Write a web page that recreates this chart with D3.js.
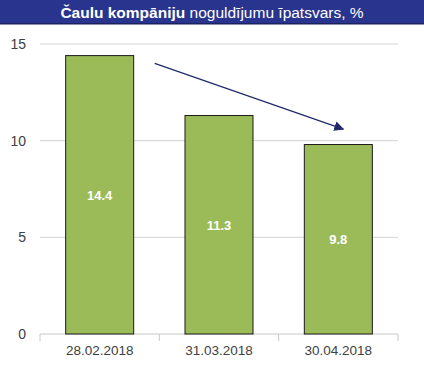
<!DOCTYPE html>
<html>
<head>
<meta charset="utf-8">
<script src="https://cdn.jsdelivr.net/npm/d3@7"></script>
<style>
  body { margin: 0; background: #fff; }
  svg { display: block; font-family: Arial, "Liberation Sans", sans-serif; }
</style>
</head>
<body>
<script>
// dati no attēla
const categories = ["28.02.2018", "31.03.2018", "30.04.2018"];
const values = [14.4, 11.3, 9.8];
const yTicks = [0, 5, 10, 15];

const W = 424, H = 368;
const margin = { left: 40, right: 26, top: 44, bottom: 34 };

const svg = d3.select("body").append("svg").attr("width", W).attr("height", H);

// virsraksta josla
svg.append("rect").attr("x", 0).attr("y", 0).attr("width", W).attr("height", 24).attr("fill", "#29348e");
svg.append("rect").attr("x", 0).attr("y", 23).attr("width", W).attr("height", 1.5).attr("fill", "#1a2260");
const title = svg.append("text").attr("x", W / 2).attr("y", 17.5).attr("text-anchor", "middle")
  .attr("fill", "#fff").attr("font-size", 15.5);
title.append("tspan").attr("font-weight", "bold").text("Čaulu kompāniju");
title.append("tspan").text(" noguldījumu īpatsvars, %");

const x = d3.scaleBand().domain(categories).range([margin.left, W - margin.right]).paddingInner(0.43).paddingOuter(0.215);
const y = d3.scaleLinear().domain([0, 15]).range([H - margin.bottom, margin.top]);

// režģis
svg.selectAll(".grid").data(yTicks.filter(d => d > 0)).enter().append("line")
  .attr("x1", margin.left).attr("x2", W - margin.right)
  .attr("y1", d => y(d)).attr("y2", d => y(d))
  .attr("stroke", "#d4d4d4").attr("stroke-width", 1);

// y ass teksti
svg.selectAll(".ylab").data(yTicks).enter().append("text")
  .attr("x", 26).attr("y", d => y(d) + 5).attr("text-anchor", "end")
  .attr("font-size", 14).attr("fill", "#404040").text(d => d);

// x ass
const step = x.step();
const xAxis = svg.append("g").attr("transform", `translate(0,${y(0)})`);
xAxis.append("line").attr("x1", margin.left).attr("x2", W - margin.right).attr("y1", 0).attr("y2", 0).attr("stroke", "#c8c8c8");
const bounds = d3.range(categories.length + 1).map(i => margin.left + i * (W - margin.left - margin.right) / categories.length);
xAxis.selectAll(".tick").data(bounds).enter().append("line")
  .attr("x1", d => d).attr("x2", d => d).attr("y1", 0).attr("y2", 7).attr("stroke", "#c8c8c8");
xAxis.selectAll(".xlab").data(categories).enter().append("text")
  .attr("x", d => x(d) + x.bandwidth() / 2).attr("y", 21).attr("text-anchor", "middle")
  .attr("font-size", 13.5).attr("fill", "#404040").text(d => d);

// stabiņi
svg.selectAll(".bar").data(values).enter().append("rect")
  .attr("x", (d, i) => x(categories[i])).attr("width", x.bandwidth())
  .attr("y", d => y(d)).attr("height", d => y(0) - y(d))
  .attr("fill", "#9bbb59").attr("stroke", "#1a1a1a").attr("stroke-width", 1);

svg.selectAll(".val").data(values).enter().append("text")
  .attr("x", (d, i) => x(categories[i]) + x.bandwidth() / 2)
  .attr("y", d => (y(d) + y(0)) / 2 + 5)
  .attr("text-anchor", "middle").attr("font-size", 13).attr("font-weight", "bold")
  .attr("fill", "#fff").text(d => d.toFixed(1));

// tendences bulta
svg.append("defs").append("marker").attr("id", "arr").attr("viewBox", "0 0 10 10")
  .attr("refX", 9).attr("refY", 5).attr("markerWidth", 10).attr("markerHeight", 10)
  .attr("markerUnits", "userSpaceOnUse").attr("orient", "auto")
  .append("path").attr("d", "M0,0L10,5L0,10z").attr("fill", "#1f2a6b");
svg.append("line")
  .attr("x1", x(categories[0]) + x.bandwidth() + 21).attr("y1", y(14.0))
  .attr("x2", x(categories[2]) + x.bandwidth() / 2 + 5).attr("y2", y(10.6))
  .attr("stroke", "#1f2a6b").attr("stroke-width", 1.2).attr("marker-end", "url(#arr)");
</script>
</body>
</html>
